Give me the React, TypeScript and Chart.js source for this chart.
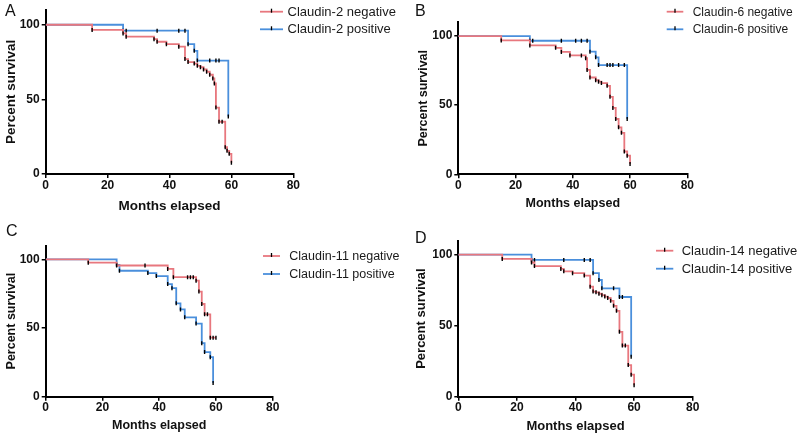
import React, { useEffect, useRef } from 'react';
import { Chart, registerables } from 'chart.js';

Chart.register(...registerables);
Chart.defaults.font.family = '"Liberation Sans", Arial, sans-serif';

// ---------- data ----------
const panelLetters = ['A', 'B', 'C', 'D'];
const claudinNames = ['Claudin-2', 'Claudin-6', 'Claudin-11', 'Claudin-14'];
const groupLabels = ['negative', 'positive'];
const xTickValues = [0, 20, 40, 60, 80];
const yTickValues = [0, 50, 100];
const xAxisTitle = 'Months elapsed';
const yAxisTitle = 'Percent survival';

// Panel A (Claudin-2)
const aNegMonths = [0, 15, 25, 26, 35, 36, 39, 43, 45, 46, 48, 49, 50, 51, 52, 53, 54, 54.5, 55, 56, 57, 58, 58.6, 59.3, 60];
const aNegSurvival = [100, 96.5, 94.2, 92, 90.3, 88.6, 87, 85.3, 77, 75, 74, 72.5, 71.5, 70, 68.5, 66.5, 64, 60.7, 44.5, 35, 35, 18, 15.5, 13.5, 7.5];
const aPosMonths = [0, 25, 26, 36, 43, 45, 46, 48, 49, 53, 55, 56, 59];
const aPosSurvival = [100, 96, 96, 96, 96, 96, 87, 82.5, 76, 76, 76, 76, 38.5];

// Panel B (Claudin-6)
const bNegMonths = [0, 15, 25, 34, 36, 39, 43, 44.5, 45, 46, 48, 49, 50, 52, 53, 54, 55, 56, 57, 58, 59, 60];
const bNegSurvival = [100, 96.8, 93.2, 91.5, 88.5, 86, 86, 84, 75.5, 70, 68, 67, 66, 64, 56, 48, 40, 34, 30, 16.5, 13.5, 7.5];
const bPosMonths = [0, 25, 26, 36, 41, 43, 45, 46, 48, 49, 52, 53, 54, 56, 58, 59];
const bPosSurvival = [100, 96.6, 96.6, 96.6, 96.6, 96.6, 96.6, 88.7, 84.6, 79, 79, 79, 79, 79, 79, 40];

// Panel C (Claudin-11)
const cNegMonths = [0, 15, 25, 35, 43, 45, 50, 51, 52, 53, 54, 55, 56, 57, 58, 59, 60];
const cNegSurvival = [100, 97.6, 95.5, 95.5, 93, 87, 87, 87, 87, 84.5, 76.5, 67.5, 60, 60, 43, 43, 43];
const cPosMonths = [0, 25, 26, 36, 39, 43, 44.5, 46, 47.5, 49, 53, 55, 56, 58, 59];
const cPosSurvival = [100, 95.9, 91.7, 90, 87.8, 82, 79, 68, 63.5, 57.8, 53.2, 39, 32.5, 28.8, 10];

// Panel D (Claudin-14)
const dNegMonths = [0, 15, 25, 26, 35, 36, 39, 43, 45, 46, 47, 48, 49, 50, 51, 52, 53, 54, 55, 56, 57, 58, 59, 60];
const dNegSurvival = [100, 97, 94.5, 92, 90, 88.3, 87, 85.3, 77.5, 74, 73.5, 72.5, 71.5, 70.5, 69.5, 67.5, 64, 60.5, 45.7, 36, 36, 22.3, 15.5, 8];
const dPosMonths = [0, 25, 26, 36, 43, 45, 46, 48, 49, 53, 55, 56, 59];
const dPosSurvival = [100, 96.3, 96.3, 96.3, 96.3, 96.3, 87, 82.2, 76.3, 76.3, 70.2, 70.2, 28.2];

const seriesByPanel = [
  [[aNegMonths, aNegSurvival], [aPosMonths, aPosSurvival]],
  [[bNegMonths, bNegSurvival], [bPosMonths, bPosSurvival]],
  [[cNegMonths, cNegSurvival], [cPosMonths, cPosSurvival]],
  [[dNegMonths, dNegSurvival], [dPosMonths, dPosSurvival]],
];

// ---------- styles / layout ----------
const RED = '#E8777E';
const BLUE = '#4A8FDC';
const INK = '#111111';

type Cfg = {
  left: number; top: number; w: number; h: number;
  area: { l: number; r: number; t: number; b: number };
  xTitleY: number; yTitleX: number; titleSize: number; tickSize: number;
  legend: { x1: number; x2: number; tx: number; ys: number[]; size: number };
  letter: { x: number; y: number; size: number };
};

const panelCfgs: Cfg[] = [
  {
    left: 0, top: 0, w: 400, h: 220,
    area: { l: 45.7, r: 293.3, t: 9.8, b: 174 },
    xTitleY: 206, yTitleX: 11.7, titleSize: 13.5, tickSize: 12,
    legend: { x1: 260, x2: 283, tx: 287.5, ys: [11.7, 29.3], size: 13 },
    letter: { x: 5, y: 11.5, size: 16 },
  },
  {
    left: 400, top: 0, w: 400, h: 220,
    area: { l: 58.3, r: 287.3, t: 22.2, b: 174.3 },
    xTitleY: 204, yTitleX: 23.3, titleSize: 12.5, tickSize: 12,
    legend: { x1: 266.7, x2: 283.3, tx: 292.7, ys: [11.7, 29.3], size: 12 },
    letter: { x: 15, y: 12, size: 16 },
  },
  {
    left: 0, top: 220, w: 400, h: 219,
    area: { l: 45.7, r: 272.7, t: 25.6, b: 176.7 },
    xTitleY: 206, yTitleX: 11.7, titleSize: 12.5, tickSize: 12,
    legend: { x1: 263, x2: 280, tx: 289.3, ys: [36, 54], size: 12.5 },
    letter: { x: 6, y: 11.5, size: 16 },
  },
  {
    left: 400, top: 220, w: 400, h: 219,
    area: { l: 58.3, r: 292.7, t: 20.5, b: 176.7 },
    xTitleY: 206.7, yTitleX: 21.7, titleSize: 13, tickSize: 12,
    legend: { x1: 256, x2: 273.3, tx: 281.7, ys: [30.7, 48.7], size: 13 },
    letter: { x: 15, y: 19, size: 16 },
  },
];

const decorPlugin = {
  id: 'kmDecor',
  afterDraw(chart: any, _args: any, opts: any) {
    const ctx: CanvasRenderingContext2D = chart.ctx;
    const cfg: Cfg = opts.cfg;
    ctx.save();
    ctx.textBaseline = 'middle';
    ctx.textAlign = 'left';
    ctx.fillStyle = INK;
    ctx.font = `${cfg.letter.size}px "Liberation Sans", Arial, sans-serif`;
    ctx.fillText(opts.letter, cfg.letter.x, cfg.letter.y);
    chart.data.datasets.forEach((ds: any, i: number) => {
      const y = cfg.legend.ys[i];
      ctx.strokeStyle = ds.borderColor;
      ctx.lineWidth = 1.8;
      ctx.beginPath();
      ctx.moveTo(cfg.legend.x1, y);
      ctx.lineTo(cfg.legend.x2, y);
      ctx.stroke();
      const mx = (cfg.legend.x1 + cfg.legend.x2) / 2;
      ctx.strokeStyle = '#000';
      ctx.lineWidth = 1.3;
      ctx.beginPath();
      ctx.moveTo(mx, y - 3);
      ctx.lineTo(mx, y + 1);
      ctx.stroke();
      ctx.fillStyle = '#1a1a1a';
      ctx.font = `${cfg.legend.size}px "Liberation Sans", Arial, sans-serif`;
      ctx.fillText(ds.label, cfg.legend.tx, y + 0.5);
    });
    ctx.restore();
  },
};

function makeDataset(label: string, months: number[], survival: number[], color: string) {
  return {
    label,
    data: months.map((m, i) => ({ x: m, y: survival[i] })),
    borderColor: color,
    backgroundColor: color,
    borderWidth: 1.8,
    stepped: 'before' as const,
    fill: false,
    pointStyle: 'line' as const,
    pointRotation: 90,
    pointRadius: (c: any) => (c.dataIndex === 0 ? 0 : 2),
    pointBorderColor: '#000',
    pointBorderWidth: 1.4,
    pointBackgroundColor: '#000',
  };
}

function KMPanel({ idx }: { idx: number }) {
  const ref = useRef<HTMLCanvasElement>(null);
  const cfg = panelCfgs[idx];
  useEffect(() => {
    const [neg, pos] = seriesByPanel[idx];
    const tLH = cfg.titleSize * 1.2;
    const chart = new Chart(ref.current as HTMLCanvasElement, {
      type: 'line',
      data: {
        datasets: [
          makeDataset(`${claudinNames[idx]} ${groupLabels[0]}`, neg[0], neg[1], RED),
          makeDataset(`${claudinNames[idx]} ${groupLabels[1]}`, pos[0], pos[1], BLUE),
        ] as any,
      },
      options: {
        animation: false,
        responsive: false,
        maintainAspectRatio: false,
        events: [],
        layout: { padding: { left: 0, top: cfg.area.t, right: cfg.w - cfg.area.r, bottom: 0 } },
        plugins: {
          legend: { display: false },
          tooltip: { enabled: false },
          kmDecor: { cfg, letter: panelLetters[idx] },
        } as any,
        scales: {
          x: {
            type: 'linear',
            min: 0,
            max: 80,
            afterBuildTicks: (s: any) => { s.ticks = xTickValues.map((v) => ({ value: v })); },
            afterFit: (s: any) => { s.height = cfg.h - cfg.area.b; s.paddingLeft = 0; s.paddingRight = 0; },
            ticks: { color: INK, padding: 0, font: { size: cfg.tickSize, weight: 'bold' }, maxRotation: 0 },
            grid: { drawOnChartArea: false, color: '#000', lineWidth: 1.5, tickLength: 4 },
            border: { display: true, color: '#000', width: 2 },
            title: {
              display: true, text: xAxisTitle, color: INK,
              font: { size: cfg.titleSize, weight: 'bold' },
              padding: { top: 0, bottom: cfg.h - cfg.xTitleY - tLH / 2 },
            },
          },
          y: {
            type: 'linear',
            min: 0,
            max: 110,
            afterBuildTicks: (s: any) => { s.ticks = yTickValues.map((v) => ({ value: v })); },
            afterFit: (s: any) => { s.width = cfg.area.l; s.paddingTop = 0; s.paddingBottom = 0; },
            ticks: { color: INK, padding: 2, font: { size: cfg.tickSize, weight: 'bold' } },
            grid: { drawOnChartArea: false, color: '#000', lineWidth: 1.5, tickLength: 4 },
            border: { display: true, color: '#000', width: 2 },
            title: {
              display: true, text: yAxisTitle, color: INK,
              font: { size: cfg.titleSize, weight: 'bold' },
              padding: { top: cfg.yTitleX - tLH / 2, bottom: 0 },
            },
          },
        },
      } as any,
      plugins: [decorPlugin],
    });
    return () => chart.destroy();
  }, []);
  return (
    <canvas
      ref={ref}
      width={cfg.w}
      height={cfg.h}
      style={{ position: 'absolute', left: cfg.left, top: cfg.top, width: cfg.w, height: cfg.h }}
    />
  );
}

export default function App() {
  return (
    <div style={{ position: 'absolute', left: 0, top: 0, width: 800, height: 439, background: '#fff' }}>
      {panelLetters.map((_, i) => (
        <KMPanel key={i} idx={i} />
      ))}
    </div>
  );
}
